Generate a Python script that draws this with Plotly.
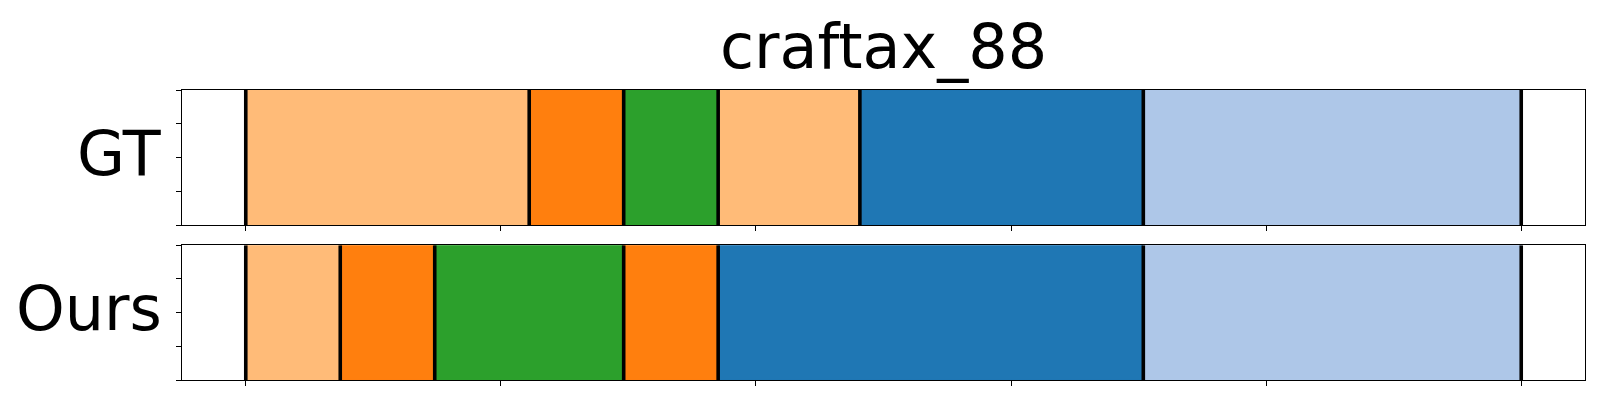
import plotly.graph_objects as go

# Segment data (durations in frames)
title_text = "craftax_88"
row_labels = ["GT", "Ours"]
gt_lengths = [6, 2, 2, 3, 6, 8]
gt_colors = ["#ffbb78", "#ff7f0e", "#2ca02c", "#ffbb78", "#1f77b4", "#aec7e8"]
ours_lengths = [2, 2, 4, 2, 9, 8]
ours_colors = ["#ffbb78", "#ff7f0e", "#2ca02c", "#ff7f0e", "#1f77b4", "#aec7e8"]
x_ticks = [0, 0.2, 0.4, 0.6, 0.8, 1.0]
y_ticks = [-0.5, -0.25, 0, 0.25, 0.5]

W, H = 1600, 400
ML, MR, MT, MB = 182, 15, 90, 20

fig = go.Figure()

rows = [(gt_lengths, gt_colors, "x", "y"), (ours_lengths, ours_colors, "x2", "y2")]
for lengths, colors, xa, ya in rows:
    total = sum(lengths)
    start = 0.0
    bounds = [0.0]
    for L, c in zip(lengths, colors):
        w = L / total
        fig.add_trace(go.Bar(
            x=[w], y=[0], base=[start], orientation="h", width=1.0,
            marker=dict(color=c, line=dict(color=c, width=1)),
            xaxis=xa, yaxis=ya, showlegend=False, hoverinfo="skip"))
        start += w
        bounds.append(start)
    lx, ly = [], []
    for b in bounds:
        lx += [b, b, None]
        ly += [-0.5, 0.5, None]
    fig.add_trace(go.Scatter(x=lx, y=ly, mode="lines",
                             line=dict(color="black", width=3.6),
                             xaxis=xa, yaxis=ya, showlegend=False,
                             hoverinfo="skip", cliponaxis=True))

plot_h = H - MT - MB
top_dom = [(H - MB - 225) / plot_h, 1.0]
bot_dom = [0.0, (H - MB - 245.3) / plot_h]

axis_common = dict(showline=True, linecolor="black", linewidth=1, mirror=True,
                   ticks="outside", ticklen=5, tickwidth=1, tickcolor="black",
                   showticklabels=False, showgrid=False, zeroline=False)

fig.update_layout(
    width=W, height=H,
    margin=dict(l=ML, r=MR, t=MT, b=MB),
    paper_bgcolor="white", plot_bgcolor="white",
    barmode="overlay",
    font=dict(family="DejaVu Sans", color="black"),
    xaxis=dict(domain=[0, 1], range=[-0.05, 1.05], tickvals=x_ticks, anchor="y", **axis_common),
    yaxis=dict(domain=top_dom, range=[-0.5, 0.5], tickvals=y_ticks, anchor="x", **axis_common),
    xaxis2=dict(domain=[0, 1], range=[-0.05, 1.05], tickvals=x_ticks, anchor="y2", **axis_common),
    yaxis2=dict(domain=bot_dom, range=[-0.5, 0.5], tickvals=y_ticks, anchor="x2", **axis_common),
    title=dict(text=title_text, x=0.5, xref="paper", xanchor="center",
               y=1 - 46 / H, yanchor="middle", font=dict(size=62, family="DejaVu Sans")),
)

plot_w = W - ML - MR
label_x = -(ML - 164) / plot_w
fig.add_annotation(text=row_labels[0], xref="paper", yref="y domain", x=label_x, y=0.5,
                   xanchor="right", yanchor="middle", showarrow=False, yshift=4,
                   font=dict(size=62, family="DejaVu Sans"))
fig.add_annotation(text=row_labels[1], xref="paper", yref="y2 domain", x=label_x, y=0.5,
                   xanchor="right", yanchor="middle", showarrow=False, yshift=4,
                   font=dict(size=62, family="DejaVu Sans"))

fig.write_html("out.html", config={"displayModeBar": False},
               post_script="document.body.style.margin='0';document.body.style.padding='0';")
